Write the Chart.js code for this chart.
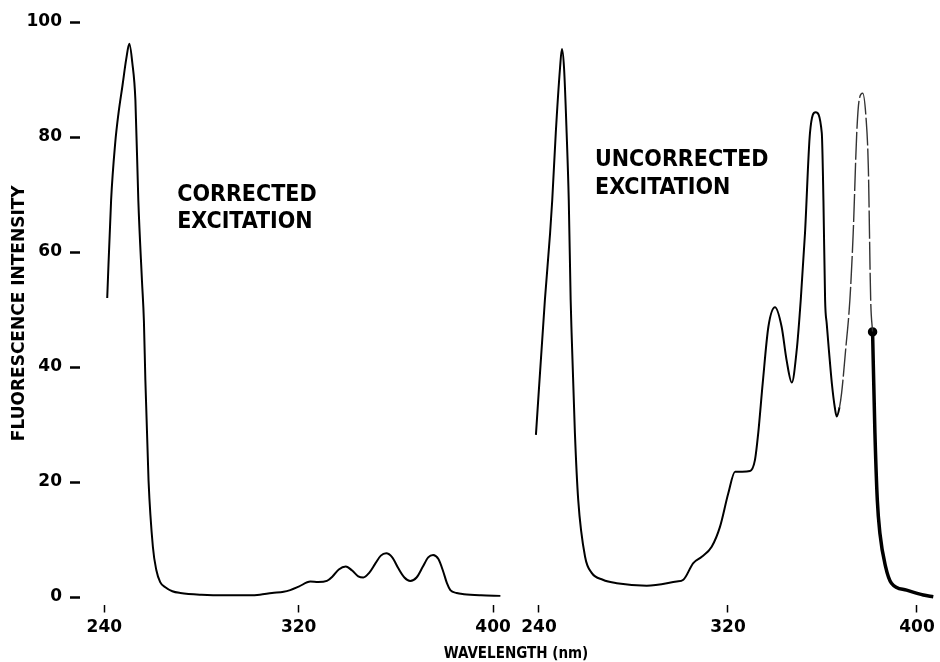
<!DOCTYPE html>
<html>
<head>
<meta charset="utf-8">
<title>Fluorescence excitation spectra</title>
<script src="https://cdn.jsdelivr.net/npm/chart.js@4.4.1/dist/chart.umd.min.js"></script>
<style>
  html, body { margin: 0; padding: 0; background: #fff; }
  #wrap { position: relative; width: 940px; height: 662px; overflow: hidden; }
  #corrected { position: absolute; left: 0; top: 0; }
  #uncorrected { position: absolute; left: 440px; top: 0; }
  #xtitle {
    position: absolute; left: 516px; top: 644px; transform: translateX(-50%);
    font: bold 15px "DejaVu Sans Condensed", "DejaVu Sans", sans-serif;
    color: #000; white-space: nowrap;
  }
</style>
</head>
<body>
<div id="wrap">
  <canvas id="corrected" width="520" height="662"></canvas>
  <canvas id="uncorrected" width="520" height="662"></canvas>
  <div id="xtitle">WAVELENGTH (nm)</div>
</div>
<script>
// corrected excitation spectrum: wavelength (nm) / intensity
const correctedWl = [241.2, 242.8, 244.5, 245.8, 247.5, 249, 250.3, 251.5, 252.8, 254, 255.5, 256.3, 256.9, 258.2,
  260, 261.4, 263, 265.1, 268, 271.3, 280, 290, 300, 304, 309, 313.8, 316.5, 320, 324.8, 328, 331.6, 334, 336.5,
  339.4, 342, 344.5, 346.6, 349, 351.5, 353.8, 356, 358.5, 361, 363.5, 365.9, 368.5, 371, 373.3, 375.3, 377.5,
  379.5, 381, 382.4, 385, 388, 395, 403];
const correctedVal = [52, 69, 79, 84, 89, 93.5, 96.2, 93, 86.4, 69, 55, 48, 37.7, 20.3,
  8.7, 4.7, 2.6, 1.7, 1.0, 0.7, 0.4, 0.3, 0.3, 0.4, 0.7, 0.9, 1.2, 1.8, 2.7, 2.6, 2.8, 3.6, 4.8,
  5.3, 4.6, 3.6, 3.4, 4.2, 5.8, 7.2, 7.6, 6.9, 5.0, 3.4, 2.8, 3.4, 5.2, 6.9, 7.3, 6.6,
  4.4, 2.4, 1.2, 0.7, 0.5, 0.3, 0.2];

// uncorrected excitation spectrum
const uncorrectedWl = [238.7, 242.5, 244.7, 245.6, 247.1, 248.9, 249.7, 250.6, 251.7, 252.6, 253.4, 253.8, 255.2,
  256.6, 259.5, 262.3, 267, 272.9, 285.6, 298.3, 301.1, 305.3, 308.9, 313.1, 316.6, 320.1, 323, 326, 329.3, 331.4,
  332.8, 334.7, 337.1, 339.9, 342.7, 344.8, 347, 349.1, 350.8, 352.6, 354.7, 357.1, 359.7, 360.4, 361.1, 361.8,
  362.8, 364, 365.2, 366, 367.2, 368.1, 369.8, 371.6, 373, 374.5, 375.5, 377, 378.4, 379.4, 380.4, 381.2];
const uncorrectedVal = [28.2, 51.7, 63.3, 69, 80.7, 92, 95.3, 92, 80.7, 69, 51.7, 45.9, 28.5,
  16.9, 7, 4.2, 3.0, 2.4, 1.97, 2.7, 3.0, 5.9, 7.0, 8.75, 12.2, 18, 21.8, 21.8, 21.9, 23.8,
  28.5, 37.2, 47, 50.4, 47, 41.2, 37.3, 43, 51.7, 63.3, 80.7, 84.3, 80.7, 69, 51.7, 47.5,
  42.5, 37, 33, 31.4, 33, 35.5, 43, 51.7, 63.3, 80.7, 86.4, 87.6, 83.5, 74.8, 51.7, 46.1];

// heavier pen stroke after the marked point
const tailWl = [381.2, 382.2, 383.2, 384.3, 386.7, 389.2, 395.6, 402.7, 406.9];
const tailVal = [46.1, 28.5, 16.9, 11.1, 5.3, 2.4, 1.2, 0.35, 0.05];

const yTicks = [0, 20, 40, 60, 80, 100];
const xTicks = [240, 320, 400];
const correctedNote = ['CORRECTED', 'EXCITATION'];
const uncorrectedNote = ['UNCORRECTED', 'EXCITATION'];

const points = (xs, ys) => xs.map((w, i) => ({ x: w, y: ys[i] }));

const tickFont = { family: 'DejaVu Sans', size: 17, weight: 'bold' };
const noteFont = 'bold 23px "DejaVu Sans Condensed", "DejaVu Sans", sans-serif';

// writes the two-line label next to each trace
const notesPlugin = {
  id: 'notes',
  afterDatasetsDraw(chart, args, opts) {
    const { ctx, scales: { x, y } } = chart;
    ctx.save();
    ctx.font = opts.font;
    ctx.fillStyle = '#000';
    ctx.textBaseline = 'middle';
    ctx.textAlign = 'left';
    opts.lines.forEach((line, i) => {
      ctx.fillText(line, x.getPixelForValue(opts.at[0]), y.getPixelForValue(opts.at[1]) + i * opts.spacing);
    });
    ctx.restore();
  }
};

function xScale(min, max) {
  return {
    type: 'linear',
    min: min,
    max: max,
    afterBuildTicks: axis => { axis.ticks = xTicks.map(v => ({ value: v })); },
    afterFit: axis => { axis.height = 57.5; },
    border: { display: false },
    grid: { drawOnChartArea: false, tickLength: 8, tickWidth: 1.5, tickColor: '#000' },
    ticks: { color: '#000', font: tickFont, padding: 5, maxRotation: 0 }
  };
}

const yScale = {
  min: -1.3,
  max: 100,
  afterBuildTicks: axis => { axis.ticks = yTicks.map(v => ({ value: v })); },
  afterFit: axis => { axis.width = 80; },
  border: { display: false },
  grid: { drawOnChartArea: false, tickLength: 10, tickWidth: 2.5, tickColor: '#000' },
  ticks: { color: '#000', font: tickFont, padding: 8 },
  title: {
    display: true,
    text: 'FLUORESCENCE INTENSITY',
    color: '#000',
    font: { family: 'DejaVu Sans', size: 17, weight: 'bold' },
    padding: { top: 9, bottom: 0 }
  }
};

const common = {
  responsive: false,
  animation: false,
  events: [],
  elements: { point: { radius: 0 } },
  plugins: { legend: { display: false }, tooltip: { enabled: false } }
};

// the pen skipped on the last peak
const skipped = ctx => ctx.p0.parsed.x >= 367 && ctx.p1.parsed.x <= 381.3;

new Chart(document.getElementById('corrected'), {
  type: 'line',
  data: {
    datasets: [{
      data: points(correctedWl, correctedVal),
      borderColor: '#000',
      borderWidth: 2,
      cubicInterpolationMode: 'monotone',
      fill: false
    }]
  },
  options: {
    ...common,
    layout: { padding: { top: 22, right: 2.6, left: 0, bottom: 0 } },
    scales: { x: xScale(230, 410), y: yScale },
    plugins: {
      ...common.plugins,
      notes: { lines: correctedNote, at: [270, 69.9], spacing: 27, font: noteFont }
    }
  },
  plugins: [notesPlugin]
});

new Chart(document.getElementById('uncorrected'), {
  type: 'line',
  data: {
    datasets: [{
      data: points(uncorrectedWl, uncorrectedVal),
      borderColor: '#000',
      borderWidth: 2,
      cubicInterpolationMode: 'monotone',
      fill: false,
      segment: {
        borderDash: ctx => skipped(ctx) ? [28, 3] : undefined,
        borderWidth: ctx => skipped(ctx) ? 1.4 : undefined,
        borderColor: ctx => skipped(ctx) ? '#333' : undefined
      }
    }, {
      data: points(tailWl, tailVal),
      borderColor: '#000',
      backgroundColor: '#000',
      borderWidth: 3.5,
      cubicInterpolationMode: 'monotone',
      fill: false,
      pointRadius: ctx => ctx.dataIndex === 0 ? 3 : 0
    }]
  },
  options: {
    ...common,
    layout: { padding: { top: 22, right: 21.75, left: 89.55, bottom: 0 } },
    scales: { x: xScale(236, 409), y: { min: -1.3, max: 100, display: false } },
    plugins: {
      ...common.plugins,
      notes: { lines: uncorrectedNote, at: [263.7, 76], spacing: 28, font: noteFont }
    }
  },
  plugins: [notesPlugin]
});
</script>
</body>
</html>
